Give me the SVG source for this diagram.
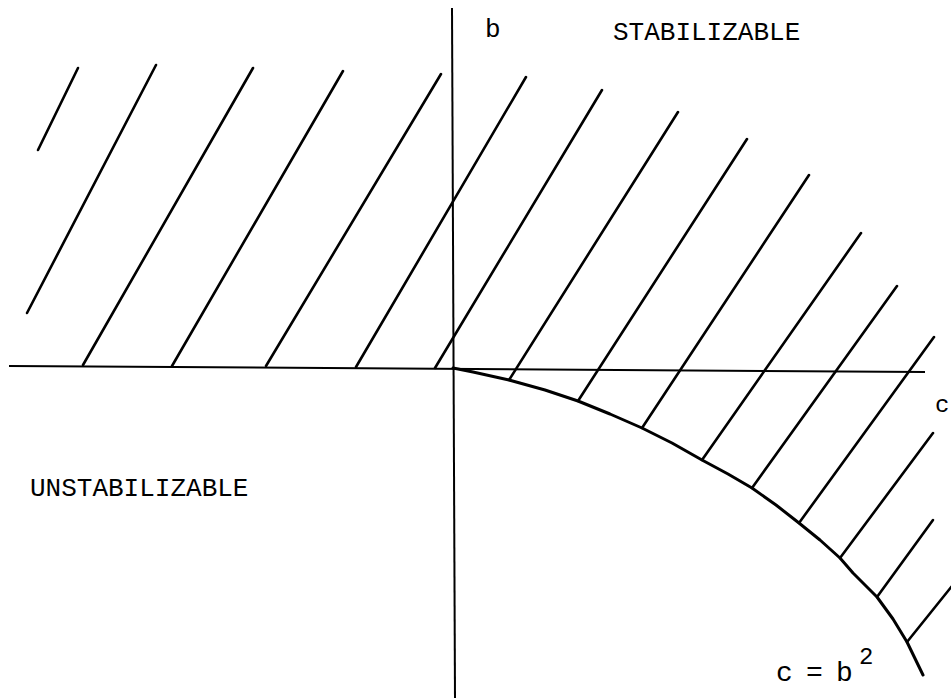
<svg xmlns="http://www.w3.org/2000/svg" width="951" height="698" viewBox="0 0 951 698">
<style>
.axis{stroke:#000;stroke-width:2;fill:none}
.hatch{stroke:#000;stroke-width:2.6;stroke-linecap:round;fill:none}
.curve{stroke:#000;stroke-width:3;fill:none;stroke-linejoin:round;stroke-linecap:round}
.t{font-family:"Liberation Mono","DejaVu Sans Mono",monospace;fill:#000}
</style>
<rect width="951" height="698" fill="#fff"/>
<g id="axes">
<line class="axis" x1="9" y1="366" x2="925" y2="372"/>
<line class="axis" x1="452" y1="8" x2="455" y2="698"/>
</g>
<g id="hatching">
<line class="hatch" x1="78" y1="68" x2="38" y2="150"/>
<line class="hatch" x1="156" y1="65" x2="27" y2="313"/>
<line class="hatch" x1="253" y1="68" x2="83" y2="365"/>
<line class="hatch" x1="343" y1="71" x2="172" y2="366"/>
<line class="hatch" x1="441" y1="74" x2="266" y2="366"/>
<line class="hatch" x1="526" y1="77" x2="356" y2="367"/>
<line class="hatch" x1="602" y1="90" x2="435" y2="368"/>
<line class="hatch" x1="678" y1="112" x2="509" y2="380"/>
<line class="hatch" x1="747" y1="139" x2="578" y2="401"/>
<line class="hatch" x1="809" y1="175" x2="642" y2="428"/>
<line class="hatch" x1="861" y1="233" x2="702" y2="460"/>
<line class="hatch" x1="897" y1="286" x2="752" y2="488"/>
<line class="hatch" x1="934" y1="337" x2="799" y2="523"/>
<line class="hatch" x1="933" y1="433" x2="840" y2="558"/>
<line class="hatch" x1="933" y1="520" x2="877" y2="597"/>
<line class="hatch" x1="956" y1="581" x2="907" y2="642"/>
</g>
<g id="boundary">
<polyline class="curve" points="453,368 473,372 509,380 545,390 578,401 610,414 642,428 672,443 702,460 728,474 752,488 776,505 799,523 820,540 840,558 853,573 877,597 893,619 907,642 923,675"/>
</g>
<g id="labels">
<text class="t" x="485" y="37" font-size="26">b</text>
<text class="t" x="613" y="40" font-size="26">STABILIZABLE</text>
<text class="t" x="30" y="496" font-size="26">UNSTABILIZABLE</text>
<text class="t" x="935" y="412" font-size="24">c</text>
<text class="t" y="681" font-size="28"><tspan x="776">c</tspan><tspan x="806">=</tspan><tspan x="836">b</tspan></text>
<text class="t" x="859" y="664" font-size="24">2</text>
</g>
</svg>
